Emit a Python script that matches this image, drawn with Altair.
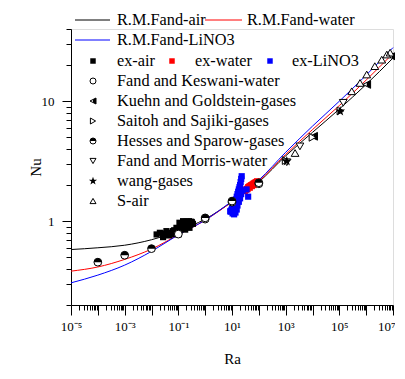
import altair as alt
import pandas as pd

FONT = "Liberation Serif"

# ---------------- correlation curves ----------------
curve_ra = [1e-5, 1e-4, 1e-3, 1e-2, 1e-1, 1, 10, 100, 1e3, 1e4, 1e5, 1e6, 1e7]
air_nu = [0.58, 0.60, 0.63, 0.70, 0.83, 1.04, 1.45, 2.12, 3.5, 5.5, 8.6, 13.8, 22.9]
water_nu = [0.383, 0.415, 0.48, 0.585, 0.77, 1.02, 1.45, 2.15, 3.6, 5.8, 9.2, 15.0, 25.0]
lino3_nu = [0.306, 0.355, 0.43, 0.56, 0.77, 1.02, 1.47, 2.2, 3.75, 6.2, 10.0, 16.5, 28.0]

# ---------------- experimental data ----------------
exair_ra = [0.0155, 0.0205, 0.027, 0.036, 0.048, 0.063, 0.085, 0.11, 0.15, 0.2, 0.26, 0.35,
            0.11, 0.18, 0.26, 0.1, 0.03, 0.04, 0.055, 0.07, 0.09, 0.12, 0.14, 0.17, 0.22,
            0.3, 0.075, 0.095, 0.13, 0.16, 0.19, 0.24, 0.28, 0.045, 0.065,
            0.12, 0.15, 0.2, 0.25, 0.32, 0.14, 0.23]
exair_nu = [0.775, 0.80, 0.736, 0.826, 0.775, 0.826, 0.88, 0.97, 1.0, 0.99, 0.97, 0.95,
            0.826, 0.85, 0.88, 0.775, 0.79, 0.80, 0.79, 0.84, 0.82, 0.90, 0.93, 0.95, 0.93,
            0.99, 0.80, 0.85, 0.88, 0.90, 0.92, 0.96, 0.94, 0.76, 0.78,
            0.94, 0.97, 0.95, 1.0, 0.98, 0.87, 0.90]

exwater_ra = [30, 33, 36, 40, 44, 48, 52, 57, 62, 68, 74, 80, 86, 38, 46, 55, 65]
exwater_nu = [1.78, 1.83, 1.86, 1.92, 1.95, 1.97, 2.0, 2.02, 2.05, 2.08, 2.1, 2.12, 2.15,
              1.85, 1.9, 1.96, 2.0]

exlino3_ra = [23, 22, 21, 20, 19, 18, 17, 16, 15, 14, 13, 12, 11, 10, 9.5, 9, 10.5, 12,
              13.5, 15, 16, 18, 20, 22, 25, 35, 40, 8.6, 11, 14]
exlino3_nu = [2.37, 2.25, 2.12, 2.0, 1.92, 1.84, 1.76, 1.68, 1.6, 1.52, 1.46, 1.4, 1.34,
              1.28, 1.24, 1.2, 1.16, 1.14, 1.18, 1.25, 1.35, 1.45, 1.55, 1.68, 1.8, 1.84,
              1.6, 1.21, 1.26, 1.3]

# ---------------- literature data ----------------
fk_ra = [0.1, 1, 10, 100]
fk_nu = [0.78, 1.04, 1.44, 2.05]
kg_ra = [1.1e4, 1.05e6, 9e6]
kg_nu = [5.1, 13.8, 23.7]
ss_ra = [1000, 1.0e4, 1.1e5]
ss_nu = [3.2, 5.0, 8.3]
hs_ra = [1e-4, 1e-3, 1e-2, 1, 10, 100]
hs_nu = [0.455, 0.52, 0.59, 1.065, 1.47, 2.09]
fm_ra = [1100, 3400, 1.4e5]
fm_nu = [3.1, 4.2, 9.7]
wang_ra = [1100, 1.07e5]
wang_nu = [3.16, 8.25]
sair_ra = [2240, 2.9e5, 5.9e5, 1.05e6, 2.1e6, 3.8e6, 5.9e6, 7.8e6]
sair_nu = [3.7, 12.1, 14.2, 16.7, 19.6, 22.2, 24.5, 25.4]

# ---------------- axes ----------------
x_major = [1e-5, 1e-4, 1e-3, 1e-2, 1e-1, 1, 10, 100, 1e3, 1e4, 1e5, 1e6, 1e7]
x_labels = ["10⁻⁵", "", "10⁻³", "", "10⁻¹", "", "10¹", "", "10³", "", "10⁵", "", "10⁷"]
x_minor = [m * d for d in x_major[:-1] for m in range(2, 10)]
y_major = [1, 10]
y_minor = [0.2, 0.3, 0.4, 0.5, 0.6, 0.7, 0.8, 0.9, 2, 3, 4, 5, 6, 7, 8, 9, 20, 30, 40]

W, H = 322, 276
xs = alt.Scale(type="log", domain=[1e-5, 1e7], nice=False)
ys = alt.Scale(type="log", domain=[0.2, 40], nice=False)

label_arr = "[" + ",".join("'%s'" % s for s in x_labels) + "]"
x_label_expr = label_arr + "[round(log(datum.value)/LN10)+5]"

def df(ra, nu):
    return pd.DataFrame({"Ra": ra, "Nu": nu})

# invisible layer carrying minor ticks
minor = alt.Chart(df(curve_ra, air_nu)).mark_point(opacity=0).encode(
    x=alt.X("Ra:Q", scale=xs, axis=alt.Axis(values=x_minor, tickSize=5, labels=False,
                                            domain=False, title=None, orient="bottom",
                                            tickColor="black", grid=False)),
    y=alt.Y("Nu:Q", scale=ys, axis=alt.Axis(values=y_minor, tickSize=5, labels=False,
                                            domain=False, title=None, orient="left",
                                            tickColor="black", grid=False)),
)

curves_df = pd.concat([
    pd.DataFrame({"Ra": curve_ra, "Nu": air_nu, "s": "air"}),
    pd.DataFrame({"Ra": curve_ra, "Nu": water_nu, "s": "water"}),
    pd.DataFrame({"Ra": curve_ra, "Nu": lino3_nu, "s": "lino3"}),
])

curves = alt.Chart(curves_df).mark_line(strokeWidth=1, interpolate="monotone").encode(
    x=alt.X("Ra:Q", scale=xs, axis=alt.Axis(
        values=x_major, tickSize=10, labelExpr=x_label_expr,
        title="Ra", orient="bottom", domainColor="black",
        tickColor="black", labelFont=FONT, labelFontSize=13,
        labelColor="black", titleFont=FONT, titleFontSize=15,
        titleFontWeight="normal", titleColor="black",
        labelPadding=5, titlePadding=18, grid=False,
        labelFlush=False, labelOverlap=False, labelBound=False,
        labelAlign={"condition": {"test": "datum.value > 5e6", "value": "right"}, "value": "center"},
        labelOffset={"condition": {"test": "datum.value > 5e6", "value": 2}, "value": 0})),
    y=alt.Y("Nu:Q", scale=ys, axis=alt.Axis(values=y_major, tickSize=9, format="~g",
                                            title="Nu", orient="left", domainColor="black",
                                            tickColor="black", labelFont=FONT, labelFontSize=13,
                                            labelColor="black", titleFont=FONT, titleFontSize=15,
                                            titleFontWeight="normal", titleColor="black",
                                            labelPadding=8, titlePadding=-2, grid=False)),
    color=alt.Color("s:N", scale=alt.Scale(domain=["air", "water", "lino3"],
                                           range=["black", "red", "blue"]), legend=None),
    detail="s:N",
)

STAR = "M0,-1L0.24,-0.31L0.95,-0.31L0.38,0.12L0.59,0.81L0,0.4L-0.59,0.81L-0.38,0.12L-0.95,-0.31L-0.24,-0.31Z"
HALF_CIRCLE = "M-1,0A1,1 0 0 1 1,0Z"
TRI_LEFT = "M-1,0L1,-1L1,1Z"
TRI_LEFT_HALF = "M0,-0.5L1,-1L1,1L0,0.5Z"

def pts(data, shape, filled, size, color="black", sw=1):
    return alt.Chart(data).mark_point(shape=shape, filled=filled, size=size, color=color,
                                      strokeWidth=sw, opacity=1).encode(
        x=alt.X("Ra:Q", scale=xs, axis=None),
        y=alt.Y("Nu:Q", scale=ys, axis=None),
    )

def sq(data, color):
    return alt.Chart(data).mark_square(size=38, color=color, opacity=1).encode(
        x=alt.X("Ra:Q", scale=xs, axis=None),
        y=alt.Y("Nu:Q", scale=ys, axis=None),
    )

def white(data, shape, size):
    return alt.Chart(data).mark_point(shape=shape, filled=True, size=size, color="white",
                                      opacity=1).encode(
        x=alt.X("Ra:Q", scale=xs, axis=None),
        y=alt.Y("Nu:Q", scale=ys, axis=None),
    )

MS = 60
layers = [minor, curves,
          sq(df(exair_ra, exair_nu), "black"),
          sq(df(exwater_ra, exwater_nu), "red"),
          sq(df(exlino3_ra, exlino3_nu), "blue")]

# literature markers
fk = df(fk_ra, fk_nu); kg = df(kg_ra, kg_nu); ss = df(ss_ra, ss_nu); hs = df(hs_ra, hs_nu)
fm = df(fm_ra, fm_nu); wg = df(wang_ra, wang_nu); sa = df(sair_ra, sair_nu)
layers += [
    white(fk, "circle", MS), pts(fk, "circle", False, MS),
    white(kg, TRI_LEFT, MS), pts(kg, TRI_LEFT, False, MS), pts(kg, TRI_LEFT_HALF, True, MS),
    white(ss, "triangle-right", MS), pts(ss, "triangle-right", False, MS),
    white(hs, "circle", MS), pts(hs, "circle", False, MS), pts(hs, HALF_CIRCLE, True, MS),
    white(fm, "triangle-down", MS), pts(fm, "triangle-down", False, MS),
    pts(wg, STAR, True, 110),
    white(sa, "triangle-up", MS), pts(sa, "triangle-up", False, MS),
]

# ---------------- hand-built legend ----------------
one = pd.DataFrame({"a": [0]})
LF = 16.3

def leg_text(txt, x, y):
    return alt.Chart(one).mark_text(text=txt, align="left", baseline="middle", font=FONT,
                                    fontSize=LF, color="black").encode(
        x=alt.value(x), y=alt.value(y))

def leg_line(color, x1, x2, y):
    return alt.Chart(one).mark_rule(color=color, strokeWidth=1).encode(
        x=alt.value(x1), x2=alt.value(x2), y=alt.value(y))

def leg_sym(shape, filled, size, y, x=22, color="black"):
    return [alt.Chart(one).mark_point(shape=shape, filled=filled, size=size, color=color,
                                      strokeWidth=1, opacity=1).encode(
        x=alt.value(x), y=alt.value(y))]

line_labels = ["R.M.Fand-air", "R.M.Fand-water", "R.M.Fand-LiNO3"]
ex_labels = ["ex-air", "ex-water", "ex-LiNO3"]
lit_labels = ["Fand and Keswani-water", "Kuehn and Goldstein-gases", "Saitoh and  Sajiki-gases",
              "Hesses and Sparow-gases", "Fand and Morris-water", "wang-gases", "S-air"]

LS = 36
layers += [leg_line("black", 4, 39, -9), leg_text(line_labels[0], 46, -9),
           leg_line("red", 134, 171, -9), leg_text(line_labels[1], 176, -9),
           leg_line("blue", 4, 39, 11), leg_text(line_labels[2], 46, 11)]
for (lab, col, sx, tx) in zip(ex_labels, ["black", "red", "blue"], [22, 101, 199], [46, 124, 221]):
    layers.append(alt.Chart(one).mark_square(size=30, color=col, opacity=1).encode(
        x=alt.value(sx), y=alt.value(32)))
    layers.append(leg_text(lab, tx, 32))

rows = [52, 72, 92, 112, 132, 152, 172]
layers += leg_sym("circle", False, LS, rows[0])
layers += leg_sym(TRI_LEFT, False, LS, rows[1]) + leg_sym(TRI_LEFT_HALF, True, LS, rows[1])
layers += leg_sym("triangle-right", False, LS, rows[2])
layers += leg_sym("circle", False, LS, rows[3]) + leg_sym(HALF_CIRCLE, True, LS, rows[3])
layers += leg_sym("triangle-down", False, LS, rows[4])
layers += leg_sym(STAR, True, 75, rows[5])
layers += leg_sym("triangle-up", False, LS, rows[6])
for lab, y in zip(lit_labels, rows):
    layers.append(leg_text(lab, 46, y))

chart = alt.layer(*layers).resolve_axis(x="independent", y="independent").properties(
    width=W, height=H,
    autosize=alt.AutoSizeParams(type="none"),
    padding={"left": 63, "top": 21, "right": 2, "bottom": 66},
).configure_view(stroke=None).configure(background="white")

chart.save("out.html", embed_options={"renderer": "svg", "actions": False})
